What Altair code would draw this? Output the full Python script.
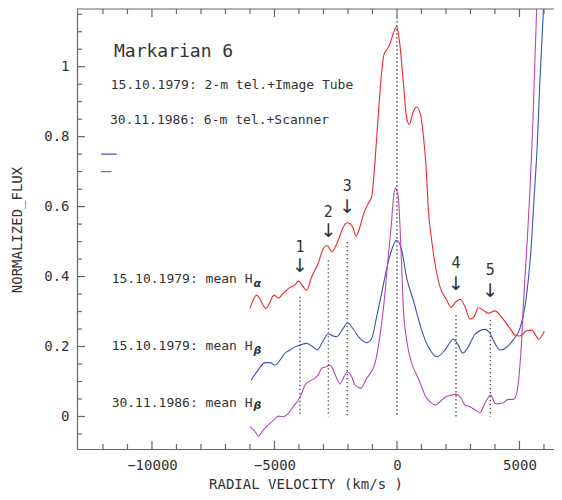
import altair as alt
import pandas as pd

# ---------------- data ----------------
# 15.10.1979 mean H-alpha (red)
ha_v = [-6000,-5727,-5347,-5009,-4845,-4641,-4368,-4164,-4029,-3686,-3482,-3213,-3033,-2845,-2666,-2396,-2192,-2029,-1808,-1674,-1510,-1376,-1172,-1033,-898,-763,-625,-518,-420,-286,-151,-12,122,257,397,502,665,804,967,1074,1184,1278,1416,1551,1755,2029,2204,2408,2572,2776,2980,3143,3319,3523,3727,4000,4204,4409,4613,4817,5021,5294,5498,5796,6013]
ha_f = [0.309,0.347,0.309,0.347,0.338,0.352,0.369,0.376,0.387,0.361,0.399,0.438,0.476,0.489,0.471,0.504,0.542,0.554,0.542,0.516,0.542,0.576,0.609,0.628,0.728,0.861,0.985,1.038,1.047,1.066,1.095,1.114,1.061,0.957,0.852,0.835,0.871,0.885,0.861,0.804,0.719,0.595,0.504,0.438,0.371,0.333,0.312,0.328,0.335,0.314,0.279,0.285,0.311,0.304,0.295,0.302,0.29,0.271,0.252,0.233,0.23,0.245,0.247,0.221,0.244]

# 15.10.1979 mean H-beta (blue)
hb79_v = [-5950,-5662,-5388,-5184,-4980,-4776,-4572,-4368,-4164,-3960,-3686,-3482,-3253,-3033,-2804,-2600,-2461,-2192,-2012,-1784,-1510,-1237,-1033,-829,-625,-420,-216,-20,192,396,665,1008,1278,1645,1959,2298,2502,2682,2910,3184,3592,3796,4000,4204,4478,4747,5021,5225,5360,5470,5592,5715,5837,5980,6040]
hb79_f = [0.104,0.133,0.154,0.154,0.147,0.161,0.181,0.19,0.199,0.204,0.209,0.202,0.19,0.214,0.236,0.23,0.228,0.252,0.268,0.25,0.223,0.211,0.223,0.285,0.352,0.423,0.476,0.504,0.476,0.396,0.333,0.247,0.199,0.171,0.19,0.221,0.204,0.181,0.199,0.235,0.249,0.238,0.209,0.19,0.198,0.219,0.252,0.314,0.39,0.476,0.619,0.761,0.961,1.164,1.25]

# 30.11.1986 mean H-beta (magenta)
hb86_v = [-6000,-5796,-5662,-5458,-5253,-5049,-4845,-4641,-4437,-4233,-4029,-3890,-3755,-3621,-3417,-3213,-3074,-2898,-2735,-2600,-2461,-2327,-2163,-2012,-1849,-1714,-1482,-1237,-898,-763,-625,-490,-355,-216,-151,-61,53,122,192,257,396,600,804,1008,1143,1347,1592,1755,1959,2233,2408,2572,2776,2980,3184,3388,3592,3825,4000,4135,4339,4543,4747,4886,4992,5090,5155,5253,5319,5429,5551,5702,5760]
hb86_f = [-0.029,-0.043,-0.056,-0.039,-0.024,-0.012,0.001,-0.001,0.009,0.028,0.047,0.066,0.09,0.099,0.106,0.119,0.138,0.142,0.147,0.133,0.109,0.093,0.114,0.127,0.114,0.09,0.081,0.109,0.152,0.199,0.266,0.352,0.457,0.561,0.619,0.653,0.628,0.547,0.428,0.314,0.219,0.152,0.119,0.085,0.061,0.042,0.033,0.042,0.055,0.061,0.064,0.057,0.033,0.028,0.019,0.011,0.038,0.061,0.038,0.036,0.039,0.049,0.049,0.066,0.123,0.219,0.314,0.428,0.504,0.647,0.847,1.164,1.25]

# marked features (dotted lines, arrows, numbers)
feat_label = ["1", "2", "3", "", "4", "5"]
feat_v = [-3960, -2800, -2030, 0, 2410, 3810]
feat_top = [0.342, 0.447, 0.499, 1.142, 0.29, 0.276]
feat_bottom = [0.0, 0.0, 0.0, 0.0, 0.0, 0.0]
num_f = [0.485, 0.585, 0.659, None, 0.439, 0.42]
arrow_f = [0.429, 0.529, 0.60, None, 0.379, 0.36]

# text annotations
head_text = ["15.10.1979: 2-m tel.+Image Tube", "30.11.1986: 6-m tel.+Scanner"]
head_v = [-11687, -11715]
head_f = [0.935, 0.835]
title_text = ["Markarian 6"]
title_v = [-11551]
title_f = [1.028]
curve_text = ["15.10.1979: mean H", "15.10.1979: mean H", "30.11.1986: mean H"]
curve_v = [-11646, -11646, -11646]
curve_f = [0.381, 0.19, 0.028]
sub_text = ["α", "β", "β"]
sub_v = [-5860, -5860, -5860]
sub_f = [0.371, 0.18, 0.02]

# short legend strokes
leg_v1 = [-12080, -12080]
leg_v2 = [-11440, -11650]
leg_f = [0.75, 0.70]

x_major = [-10000, -5000, 0, 5000]
x_minor = [-12000, -11000, -9000, -8000, -7000, -6000, -4000, -3000, -2000,
           -1000, 1000, 2000, 3000, 4000, 6000]
y_major = [0, 0.2, 0.4, 0.6, 0.8, 1.0]
y_minor = [-0.05, 0.05, 0.1, 0.15, 0.25, 0.3, 0.35, 0.45, 0.5, 0.55, 0.65,
           0.7, 0.75, 0.85, 0.9, 0.95, 1.05, 1.1, 1.15]

# ---------------- styling ----------------
RED, BLUE, MAG = "#f02828", "#3c54b4", "#b848b0"
FONT = "DejaVu Sans Mono"
TXT = "#333333"
AX = "#666666"
W, H = 477, 440
X_DOMAIN = [-13060, 6410]
Y_DOMAIN = [-0.093, 1.165]

xs = alt.Scale(domain=X_DOMAIN, nice=False, zero=False)
ys = alt.Scale(domain=Y_DOMAIN, nice=False, zero=False)

rows = []
for name, vv, ff in [("ha", ha_v, ha_f), ("hb79", hb79_v, hb79_f), ("hb86", hb86_v, hb86_f)]:
    for i, (v, f) in enumerate(zip(vv, ff)):
        rows.append({"series": name, "i": i, "v": v, "f": f})
curves_df = pd.DataFrame(rows)

curves = alt.Chart(curves_df).mark_line(clip=True, strokeWidth=1.1, interpolate="monotone").encode(
    x=alt.X("v:Q", scale=xs, axis=alt.Axis(values=x_major, format="d", ticks=False, tickSize=0,
                                           labelPadding=9, grid=False, domainColor=AX, domainWidth=1.2,
                                           labelFont=FONT, labelFontSize=14, labelColor=TXT,
                                           labelFlush=False, labelOverlap=False, title=None)),
    y=alt.Y("f:Q", scale=ys, axis=alt.Axis(values=y_major, format=".1~f", ticks=False, tickSize=0,
                                           labelPadding=8, grid=False, domainColor=AX, domainWidth=1.2,
                                           labelFont=FONT, labelFontSize=14, labelColor=TXT,
                                           labelFlush=False, labelOverlap=False, title=None)),
    color=alt.Color("series:N", scale=alt.Scale(domain=["ha", "hb79", "hb86"], range=[RED, BLUE, MAG]),
                    legend=None),
    detail="series:N",
    order="i:Q",
)

xmaj = pd.DataFrame({"v": x_major})
xmin = pd.DataFrame({"v": x_minor})
ymaj = pd.DataFrame({"f": y_major})
ymin = pd.DataFrame({"f": y_minor})

def xtick(df, y0, y1):
    return alt.Chart(df).mark_rule(color=AX, strokeWidth=1.2).encode(
        x=alt.X("v:Q", scale=xs, axis=None), y=alt.value(y0), y2=alt.value(y1))

def ytick(df, length):
    return alt.Chart(df).mark_rule(color=AX, strokeWidth=1.2).encode(
        y=alt.Y("f:Q", scale=ys, axis=None), x=alt.value(0), x2=alt.value(length))

ticks = [
    xtick(xmaj, H, H - 8), xtick(xmin, H, H - 5),
    xtick(xmaj, 0, 8), xtick(xmin, 0, 5),
    ytick(ymaj, 8), ytick(ymin, 5),
]

top_frame = alt.Chart(pd.DataFrame({"a": [0]})).mark_rule(color=AX, strokeWidth=1.2).encode(
    x=alt.value(0), x2=alt.value(W), y=alt.value(0))

feat_df = pd.DataFrame({"v": feat_v, "top": feat_top, "bot": feat_bottom})
dotted = alt.Chart(feat_df).mark_rule(color="#444444", strokeWidth=1.3, strokeDash=[1.4, 2.6]).encode(
    x=alt.X("v:Q", scale=xs, axis=None), y=alt.Y("top:Q", scale=ys, axis=None), y2="bot:Q")

lab_rows = [(l, v, n, a) for l, v, n, a in zip(feat_label, feat_v, num_f, arrow_f) if l]
nums_df = pd.DataFrame({"t": [r[0] for r in lab_rows], "v": [r[1] for r in lab_rows],
                        "f": [r[2] for r in lab_rows], "a": [r[3] for r in lab_rows]})
nums = alt.Chart(nums_df).mark_text(font=FONT, fontSize=15, color=TXT, align="center", baseline="middle").encode(
    x=alt.X("v:Q", scale=xs, axis=None), y=alt.Y("f:Q", scale=ys, axis=None), text="t:N")
arrows = alt.Chart(nums_df).mark_text(font="DejaVu Sans", fontSize=19, color=TXT, align="center",
                                      baseline="middle", text="↓").encode(
    x=alt.X("v:Q", scale=xs, axis=None), y=alt.Y("a:Q", scale=ys, axis=None))

def texts(tt, vv, ff, size, **kw):
    df = pd.DataFrame({"t": tt, "v": vv, "f": ff})
    return alt.Chart(df).mark_text(align="left", baseline="alphabetic", fontSize=size, color=TXT, **kw).encode(
        x=alt.X("v:Q", scale=xs, axis=None), y=alt.Y("f:Q", scale=ys, axis=None), text="t:N")

title_t = texts(title_text, title_v, title_f, 18, font=FONT)
head_t = texts(head_text, head_v, head_f, 13, font=FONT)
curve_t = texts(curve_text, curve_v, curve_f, 13, font=FONT)
sub_t = texts(sub_text, sub_v, sub_f, 11, font="DejaVu Sans", fontStyle="italic", fontWeight="bold")

leg_df = pd.DataFrame({"v1": leg_v1, "v2": leg_v2, "f": leg_f, "c": [BLUE, MAG]})
legend_strokes = alt.Chart(leg_df).mark_rule(strokeWidth=1.2).encode(
    x=alt.X("v1:Q", scale=xs, axis=None), x2="v2:Q", y=alt.Y("f:Q", scale=ys, axis=None),
    color=alt.Color("c:N", scale=None))

ytitle = alt.Chart(pd.DataFrame({"t": ["NORMALIZED_FLUX"]})).mark_text(
    font=FONT, fontSize=14, color=TXT, angle=270, align="center", baseline="alphabetic").encode(
    x=alt.value(-55), y=alt.value(221), text="t:N")
xtitle = alt.Chart(pd.DataFrame({"t": ["RADIAL VELOCITY (km/s )"]})).mark_text(
    font=FONT, fontSize=14, color=TXT, align="center", baseline="alphabetic").encode(
    x=alt.value(229), y=alt.value(480), text="t:N")

chart = alt.layer(
    curves, dotted, *ticks, top_frame, nums, arrows, title_t, head_t, curve_t, sub_t,
    legend_strokes, ytitle, xtitle,
).resolve_axis(
    x="independent", y="independent"
).properties(
    width=W, height=H,
    autosize=alt.AutoSizeParams(type="none"),
    padding={"left": 69, "top": 1, "right": 0, "bottom": 42},
    background="white",
).configure_view(stroke=None)

chart.save("out.html", embed_options={"renderer": "svg", "actions": False})
